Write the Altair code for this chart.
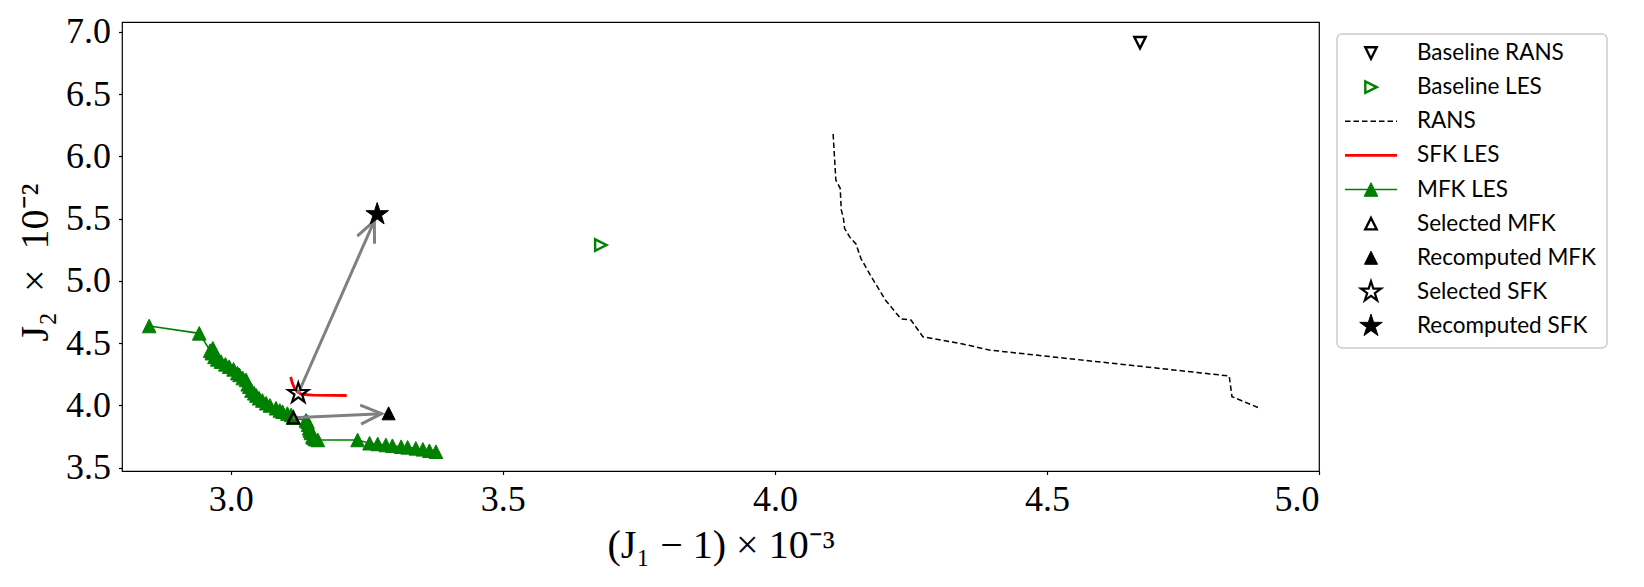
import math
import altair as alt
import pandas as pd

# ---------------- data ----------------
mfk_x = [2.850, 2.942, 2.962, 2.965, 2.967, 2.970, 2.973, 2.975, 2.982, 2.990, 2.997,
         3.005, 3.012, 3.016, 3.022, 3.028, 3.031, 3.034, 3.038, 3.043, 3.047, 3.052,
         3.058, 3.065, 3.072, 3.083, 3.090, 3.095, 3.104, 3.111, 3.115, 3.138, 3.141,
         3.142, 3.144, 3.145, 3.147, 3.150, 3.152, 3.155, 3.160, 3.233, 3.255, 3.270,
         3.285, 3.297, 3.313, 3.325, 3.340, 3.353, 3.365, 3.377]
mfk_y = [4.638, 4.579, 4.440, 4.420, 4.459, 4.390, 4.405, 4.370, 4.352, 4.330, 4.311,
         4.290, 4.260, 4.245, 4.220, 4.205, 4.170, 4.151, 4.120, 4.098, 4.080, 4.058,
         4.040, 4.018, 4.000, 3.978, 3.960, 3.950, 3.935, 3.924, 3.902, 3.880, 3.870,
         3.845, 3.817, 3.800, 3.780, 3.750, 3.740, 3.730, 3.723, 3.723, 3.697, 3.691,
         3.683, 3.677, 3.669, 3.664, 3.656, 3.648, 3.637, 3.629]

sfk_x = [3.110, 3.113, 3.117, 3.122, 3.130, 3.150, 3.213]
sfk_y = [4.230, 4.180, 4.140, 4.110, 4.090, 4.083, 4.080]

rans_x = [4.107, 4.112, 4.120, 4.122, 4.126, 4.128, 4.137, 4.149, 4.158, 4.177, 4.192,
          4.203, 4.223, 4.232, 4.250, 4.272, 4.345, 4.394, 4.835, 4.840, 4.891]
rans_y = [6.179, 5.810, 5.743, 5.569, 5.502, 5.422, 5.355, 5.296, 5.181, 5.034, 4.927,
          4.847, 4.740, 4.694, 4.686, 4.552, 4.494, 4.445, 4.237, 4.071, 3.978]

baseline_rans_x = [4.671]
baseline_rans_y = [6.912]
baseline_les_x = [3.680]
baseline_les_y = [5.288]
selected_mfk_x = [3.115]
selected_mfk_y = [3.902]
recomputed_mfk_x = [3.290]
recomputed_mfk_y = [3.937]
selected_sfk_x = [3.124]
selected_sfk_y = [4.098]
recomputed_sfk_x = [3.269]
recomputed_sfk_y = [5.534]

x_ticks = [3.0, 3.5, 4.0, 4.5, 5.0]
y_ticks = [3.5, 4.0, 4.5, 5.0, 5.5, 6.0, 6.5, 7.0]

legend_labels = ["Baseline RANS", "Baseline LES", "RANS", "SFK LES", "MFK LES",
                 "Selected MFK", "Recomputed MFK", "Selected SFK", "Recomputed SFK"]

# ---------------- layout / style ----------------
W, H = 1197, 449
XDOM = [2.8, 5.0]
YDOM = [3.474, 7.078]
SERIF = "Liberation Serif"
SANS = "Lato"
GREEN = "#008000"
GRAY = "#808080"

TRI_UP = "M0,-1L1,1L-1,1Z"
TRI_DOWN = "M0,1L1,-1L-1,-1Z"
TRI_RIGHT = "M1,0L-1,-1L-1,1Z"
STAR = ("M0,-1L0.2245,-0.309L0.951,-0.309L0.363,0.118L0.588,0.809L0,0.382"
        "L-0.588,0.809L-0.363,0.118L-0.951,-0.309L-0.2245,-0.309Z")
CHEVRON = "M-1,-0.45L0,0L-1,0.45"


def xy_df(xs, ys):
    return pd.DataFrame({"x": xs, "y": ys, "i": list(range(len(xs)))})


X = alt.X("x:Q", scale=alt.Scale(domain=XDOM, nice=False, zero=False),
          axis=alt.Axis(values=x_ticks, format=".1f", title="(J₁ − 1) × 10⁻³",
                        labelPadding=8, titleY=86, titleBaseline="alphabetic"))
Y = alt.Y("y:Q", scale=alt.Scale(domain=YDOM, nice=False, zero=False),
          axis=alt.Axis(values=y_ticks, format=".1f", title="J₂\u2002×\u200210⁻²",
                        labelPadding=8, titleX=-75, titleY=240, titleAngle=270,
                        titleBaseline="alphabetic", titleAlign="center"))


def line_layer(xs, ys, **kw):
    return alt.Chart(xy_df(xs, ys)).mark_line(**kw).encode(x=X, y=Y, order="i:Q")


def point_layer(xs, ys, **kw):
    return alt.Chart(xy_df(xs, ys)).mark_point(opacity=1, **kw).encode(x=X, y=Y)


rans = line_layer(rans_x, rans_y, color="black", strokeWidth=1.5, strokeDash=[5.5, 3])
sfk = line_layer(sfk_x, sfk_y, color="red", strokeWidth=2.8)
mfk_line = line_layer(mfk_x, mfk_y, color=GREEN, strokeWidth=1.6)
mfk_pts = point_layer(mfk_x, mfk_y, shape=TRI_UP, filled=True, fill=GREEN, stroke=GREEN,
                      strokeWidth=1, size=185)

# arrows from selected to recomputed designs
sx = W / (XDOM[1] - XDOM[0])
sy = H / (YDOM[1] - YDOM[0])
arrows = []
for x0, y0, x1, y1 in [(selected_mfk_x[0], selected_mfk_y[0], recomputed_mfk_x[0], recomputed_mfk_y[0]),
                       (selected_sfk_x[0], selected_sfk_y[0], recomputed_sfk_x[0], recomputed_sfk_y[0])]:
    dxp = (x1 - x0) * sx
    dyp = -(y1 - y0) * sy
    L = math.hypot(dxp, dyp)
    ux, uy = dxp / L, dyp / L
    shrink = 7
    tx = x1 - ux * shrink / sx
    ty = y1 + uy * shrink / sy
    ang = math.degrees(math.atan2(dyp, dxp)) % 360
    arrows.append({"x": x0, "y": y0, "x2": tx, "y2": ty, "angle": ang})
arrow_df = pd.DataFrame(arrows)

arrow_shaft = alt.Chart(arrow_df).mark_rule(color=GRAY, strokeWidth=3).encode(
    x=X, y=Y, x2="x2:Q", y2="y2:Q")
arrow_head = alt.Chart(arrow_df).mark_point(
    shape=CHEVRON, filled=False, color=GRAY, strokeWidth=3, size=1764, opacity=1,
    strokeJoin="miter").encode(
    x=alt.X("x2:Q", scale=alt.Scale(domain=XDOM, nice=False, zero=False)),
    y=alt.Y("y2:Q", scale=alt.Scale(domain=YDOM, nice=False, zero=False)),
    angle=alt.Angle("angle:Q", scale=None))

b_rans = point_layer(baseline_rans_x, baseline_rans_y, shape=TRI_DOWN, filled=False,
                     color="black", strokeWidth=2.4, size=130)
b_les = point_layer(baseline_les_x, baseline_les_y, shape=TRI_RIGHT, filled=False,
                    color=GREEN, strokeWidth=2.4, size=130)
sel_mfk = point_layer(selected_mfk_x, selected_mfk_y, shape=TRI_UP, filled=False,
                      color="black", strokeWidth=2.4, size=130)
rec_mfk = point_layer(recomputed_mfk_x, recomputed_mfk_y, shape=TRI_UP, filled=True,
                      fill="black", stroke="black", strokeWidth=1, size=170)
sel_sfk = point_layer(selected_sfk_x, selected_sfk_y, shape=STAR, filled=False,
                      color="black", strokeWidth=2.2, size=440)
rec_sfk = point_layer(recomputed_sfk_x, recomputed_sfk_y, shape=STAR, filled=True,
                      fill="black", stroke="black", strokeWidth=1, size=560)

main = alt.layer(rans, sfk, mfk_line, mfk_pts, arrow_shaft, arrow_head,
                 b_rans, b_les, sel_mfk, rec_mfk, sel_sfk, rec_sfk)

# ---------------- legend (drawn outside the plot area) ----------------
LEG_SYM_X = 1249
LEG_LINE_X1, LEG_LINE_X2 = 1223, 1275
LEG_TEXT_X = 1295
leg_y = alt.Y("label:N", scale=alt.Scale(type="point", domain=legend_labels,
                                         range=[31, 304], padding=0), axis=None)


def leg_df(label):
    return pd.DataFrame({"label": [label]})


frame = alt.Chart(pd.DataFrame({"k": [0]})).mark_rect(
    fill="white", stroke="#cccccc", strokeWidth=1.5, cornerRadius=5).encode(
    x=alt.value(1215), x2=alt.value(1485), y=alt.value(12), y2=alt.value(326))


def leg_point(label, **kw):
    return alt.Chart(leg_df(label)).mark_point(opacity=1, **kw).encode(
        x=alt.value(LEG_SYM_X), y=leg_y)


def leg_line(label, **kw):
    return alt.Chart(leg_df(label)).mark_rule(**kw).encode(
        x=alt.value(LEG_LINE_X1), x2=alt.value(LEG_LINE_X2), y=leg_y)


leg_layers = [
    frame,
    leg_point("Baseline RANS", shape=TRI_DOWN, filled=False, color="black", strokeWidth=2.4, size=130),
    leg_point("Baseline LES", shape=TRI_RIGHT, filled=False, color=GREEN, strokeWidth=2.4, size=130),
    leg_line("RANS", color="black", strokeWidth=1.5, strokeDash=[5.5, 3]),
    leg_line("SFK LES", color="red", strokeWidth=2.8),
    leg_line("MFK LES", color=GREEN, strokeWidth=1.6),
    leg_point("MFK LES", shape=TRI_UP, filled=True, fill=GREEN, stroke=GREEN, strokeWidth=1, size=185),
    leg_point("Selected MFK", shape=TRI_UP, filled=False, color="black", strokeWidth=2.4, size=130),
    leg_point("Recomputed MFK", shape=TRI_UP, filled=True, fill="black", stroke="black", strokeWidth=1, size=170),
    leg_point("Selected SFK", shape=STAR, filled=False, color="black", strokeWidth=2.2, size=440),
    leg_point("Recomputed SFK", shape=STAR, filled=True, fill="black", stroke="black", strokeWidth=1, size=560),
    alt.Chart(pd.DataFrame({"label": legend_labels})).mark_text(
        align="left", baseline="middle", font=SANS, fontSize=22.5, color="black").encode(
        x=alt.value(LEG_TEXT_X), y=leg_y, text="label:N"),
]
legend = alt.layer(*leg_layers)

chart = alt.layer(main, legend).resolve_scale(y="independent").properties(
    width=W, height=H,
    autosize=alt.AutoSizeParams(type="none"),
    padding={"left": 114, "top": 14, "right": 310, "bottom": 108},
).configure_view(
    stroke="black", strokeWidth=1.2
).configure_axis(
    grid=False, domain=False,
    labelFont=SERIF, labelFontSize=36, labelColor="black",
    titleFont=SERIF, titleFontSize=40, titleFontWeight="normal", titleColor="black",
    tickColor="black", tickSize=3.5, tickWidth=1.2,
)

chart.save("out.html", embed_options={"renderer": "svg", "actions": False})
